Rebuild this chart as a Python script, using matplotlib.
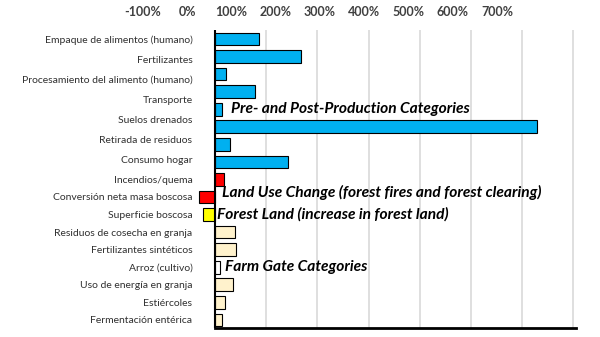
import numpy as np
import matplotlib
matplotlib.use("Agg")
import matplotlib.pyplot as plt

# Etiquetas (16) y barras (17): la figura original es un montaje
etiquetas_pre = ["Empaque de alimentos (humano)", "Fertilizantes",
                 "Procesamiento del alimento (humano)", "Transporte",
                 "Suelos drenados", "Retirada de residuos", "Consumo hogar"]
etiquetas_resto = ["Incendios/quema", "Conversión neta masa boscosa",
                   "Superficie boscosa", "Residuos de cosecha en granja",
                   "Fertilizantes sintéticos", "Arroz (cultivo)",
                   "Uso de energía en granja", "Estiércoles",
                   "Fermentación entérica"]

# valores en %
pre_post = [86, 167, 21, 79, 14, 629, 29, 142]
uso_suelo = [18, -31]
bosque = [-24]
granja = [40, 42, 10, 35, 19, 14]

top_ticks = [-100, 0, 100, 200, 300, 400, 500, 600, 700]
grid_ticks = [100, 200, 300, 400, 500, 600, 700]

colores = (["#00B0F0"] * len(pre_post) + ["#FF0000"] * len(uso_suelo)
           + ["#FFFF00"] * len(bosque)
           + ["#FFF2CC", "#FFF2CC", "#FFFFFF", "#FFF2CC", "#FFF2CC", "#FFF2CC"])
valores = pre_post + uso_suelo + bosque + granja

plt.rcParams['font.family'] = ['Lato', 'DejaVu Sans']

fig = plt.figure(figsize=(6, 3.37), dpi=100)
ax = fig.add_axes([194.5 / 600, 1 - 328 / 337, (576 - 194.5) / 600, 298 / 337])

pos = np.arange(len(valores))
ax.barh(pos, valores, height=0.72, color=colores, edgecolor="black", linewidth=0.8, zorder=3)

ax.set_xlim(-40, 705)
ax.set_ylim(16.46, -0.51)

for g in grid_ticks:
    ax.axvline(g, color="#D9D9D9", linewidth=1.2, zorder=1)
ax.axvline(0, color="black", linewidth=1.5, zorder=4)

for s in ["top", "right", "left"]:
    ax.spines[s].set_visible(False)
ax.spines["bottom"].set_bounds(0, 705)
ax.spines["bottom"].set_linewidth(2)
ax.set_xticks([])

# etiquetas del eje y
n_pre = len(etiquetas_pre)
lab_pos = [i * len(pre_post) / n_pre for i in range(n_pre)] + list(range(len(pre_post), len(valores)))
ax.set_yticks(lab_pos)
ax.set_yticklabels(etiquetas_pre + etiquetas_resto, fontsize=7.5, color="#303030")
ax.tick_params(axis="y", length=0, pad=1.5)

# anotaciones
txt = dict(fontsize=11.2, fontweight="bold", fontstyle="italic", va="center", ha="left", zorder=5)
ax.text(31, 4, "Pre- and Post-Production Categories", **txt)
ax.text(14, 8.75, "Land Use Change (forest fires and forest clearing)", **txt)
ax.text(4, 10, "Forest Land (increase in forest land)", **txt)
ax.text(20, 13, "Farm Gate Categories", **txt)

# escala superior (pegada desde otro gráfico)
axt = fig.add_axes([143 / 600, 1 - 6 / 337, (497 - 143) / 600, 0.0001])
axt.set_xlim(-100, 700)
axt.set_xticks(top_ticks)
axt.set_xticklabels([f"{t}%" for t in top_ticks], fontsize=9, fontweight="bold", color="#404040")
axt.tick_params(axis="x", length=0, pad=0)
axt.set_yticks([])
for s in axt.spines.values():
    s.set_visible(False)
axt.patch.set_visible(False)

fig.savefig("out.png", dpi=100)
